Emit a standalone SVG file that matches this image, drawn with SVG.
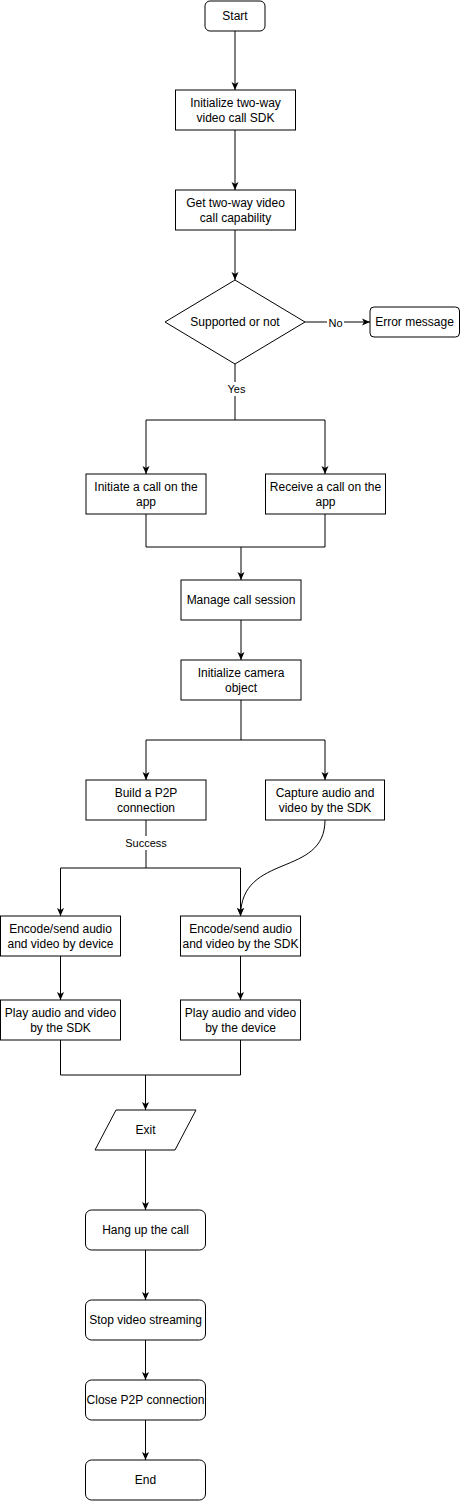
<svg xmlns="http://www.w3.org/2000/svg" width="461" height="1501" viewBox="0 0 461 1501">
<style>
.n{fill:#fff;stroke:#000;stroke-width:1}
.t{font-family:"Liberation Sans",Arial,sans-serif;font-size:12px;fill:#000;text-anchor:middle;dominant-baseline:central}
.l{font-family:"Liberation Sans",Arial,sans-serif;font-size:11px;fill:#000;text-anchor:middle;dominant-baseline:central}
.e{fill:none;stroke:#000;stroke-width:1}
.a{marker-end:url(#arr)}
</style>
<defs>
<marker id="arr" markerUnits="userSpaceOnUse" viewBox="0 0 8 8" refX="8" refY="4" markerWidth="8" markerHeight="8" orient="auto">
<path d="M0,0.5 L8,4 L0,7.5 L2,4 Z" fill="#000"/>
</marker>
</defs>
<rect width="461" height="1501" fill="#fff"/>
<g id="connectors">
<path class="e a" d="M235 31 V90"/>
<path class="e a" d="M235 130 V190"/>
<path class="e a" d="M235 230 V280"/>
<path class="e a" d="M305 322 H370"/>
<path class="e a" d="M235 364 V420 H146 V474"/>
<path class="e a" d="M235 420 H325 V474"/>
<path class="e a" d="M146 514 V547 H241 V580"/>
<path class="e" d="M325 514 V547 H241"/>
<path class="e a" d="M241 620 V660"/>
<path class="e a" d="M241 700 V740 H146 V780"/>
<path class="e a" d="M241 740 H325 V780"/>
<path class="e a" d="M146 820 V868 H60.5 V916"/>
<path class="e a" d="M146 868 H240.5 V916"/>
<path class="e a" d="M325 820 C325 878 241 852 240.5 916"/>
<path class="e a" d="M60.5 956 V1000"/>
<path class="e a" d="M240.5 956 V1000"/>
<path class="e a" d="M60.5 1040 V1075 H145.5 V1110"/>
<path class="e" d="M240.5 1040 V1075 H145.5"/>
<path class="e a" d="M145.5 1150 V1210"/>
<path class="e a" d="M145.5 1250 V1300"/>
<path class="e a" d="M145.5 1340 V1380"/>
<path class="e a" d="M145.5 1420 V1460"/>
<rect x="327" y="315" width="17" height="14" fill="#fff"/>
<text class="l" x="335.5" y="323">No</text>
<rect x="226" y="382" width="21" height="14" fill="#fff"/>
<text class="l" x="236.5" y="389">Yes</text>
<rect x="124" y="836" width="44" height="14" fill="#fff"/>
<text class="l" x="146" y="843">Success</text>
</g>
<g id="start"><rect class="n" x="205" y="1" width="60" height="30" rx="5"/><text class="t" x="235" y="16">Start</text></g>
<g id="init-sdk"><rect class="n" x="175.5" y="90" width="120" height="40"/><text class="t" x="235.5" y="103">Initialize two-way</text><text class="t" x="235.5" y="118">video call SDK</text></g>
<g id="get-capability"><rect class="n" x="175.5" y="190" width="120" height="40"/><text class="t" x="235.5" y="203">Get two-way video</text><text class="t" x="235.5" y="218">call capability</text></g>
<g id="supported"><polygon class="n" points="235,280 305,322 235,364 165,322"/><text class="t" x="235" y="322">Supported or not</text></g>
<g id="error"><rect class="n" x="370" y="307" width="89.5" height="30" rx="4"/><text class="t" x="414.5" y="322">Error message</text></g>
<g id="initiate"><rect class="n" x="86" y="474" width="120" height="40"/><text class="t" x="146" y="487">Initiate a call on the</text><text class="t" x="146" y="502">app</text></g>
<g id="receive"><rect class="n" x="265.5" y="474" width="120" height="40"/><text class="t" x="325.5" y="487">Receive a call on the</text><text class="t" x="325.5" y="502">app</text></g>
<g id="manage"><rect class="n" x="181" y="580" width="120" height="40"/><text class="t" x="241" y="600">Manage call session</text></g>
<g id="camera"><rect class="n" x="181" y="660" width="120" height="40"/><text class="t" x="241" y="673">Initialize camera</text><text class="t" x="241" y="688">object</text></g>
<g id="p2p"><rect class="n" x="86" y="780" width="120" height="40"/><text class="t" x="146" y="793">Build a P2P</text><text class="t" x="146" y="808">connection</text></g>
<g id="capture"><rect class="n" x="265.5" y="780" width="119" height="40"/><text class="t" x="325" y="793">Capture audio and</text><text class="t" x="325" y="808">video by the SDK</text></g>
<g id="encode-device"><rect class="n" x="0.5" y="916" width="120" height="40"/><text class="t" x="60.5" y="929">Encode/send audio</text><text class="t" x="60.5" y="944">and video by device</text></g>
<g id="encode-sdk"><rect class="n" x="180.5" y="916" width="120" height="40"/><text class="t" x="240.5" y="929">Encode/send audio</text><text class="t" x="240.5" y="944">and video by the SDK</text></g>
<g id="play-sdk"><rect class="n" x="0.5" y="1000" width="120" height="40"/><text class="t" x="60.5" y="1013">Play audio and video</text><text class="t" x="60.5" y="1028">by the SDK</text></g>
<g id="play-device"><rect class="n" x="180.5" y="1000" width="120" height="40"/><text class="t" x="240.5" y="1013">Play audio and video</text><text class="t" x="240.5" y="1028">by the device</text></g>
<g id="exit"><polygon class="n" points="116,1110 196,1110 175,1150 95,1150"/><text class="t" x="145.5" y="1130">Exit</text></g>
<g id="hangup"><rect class="n" x="85.5" y="1210" width="120" height="40" rx="6"/><text class="t" x="145.5" y="1230">Hang up the call</text></g>
<g id="stop"><rect class="n" x="85.5" y="1300" width="120" height="40" rx="6"/><text class="t" x="145.5" y="1320">Stop video streaming</text></g>
<g id="close"><rect class="n" x="85.5" y="1380" width="120" height="40" rx="6"/><text class="t" x="145.5" y="1400">Close P2P connection</text></g>
<g id="end"><rect class="n" x="85.5" y="1460" width="120" height="40" rx="6"/><text class="t" x="145.5" y="1480">End</text></g>
</svg>
